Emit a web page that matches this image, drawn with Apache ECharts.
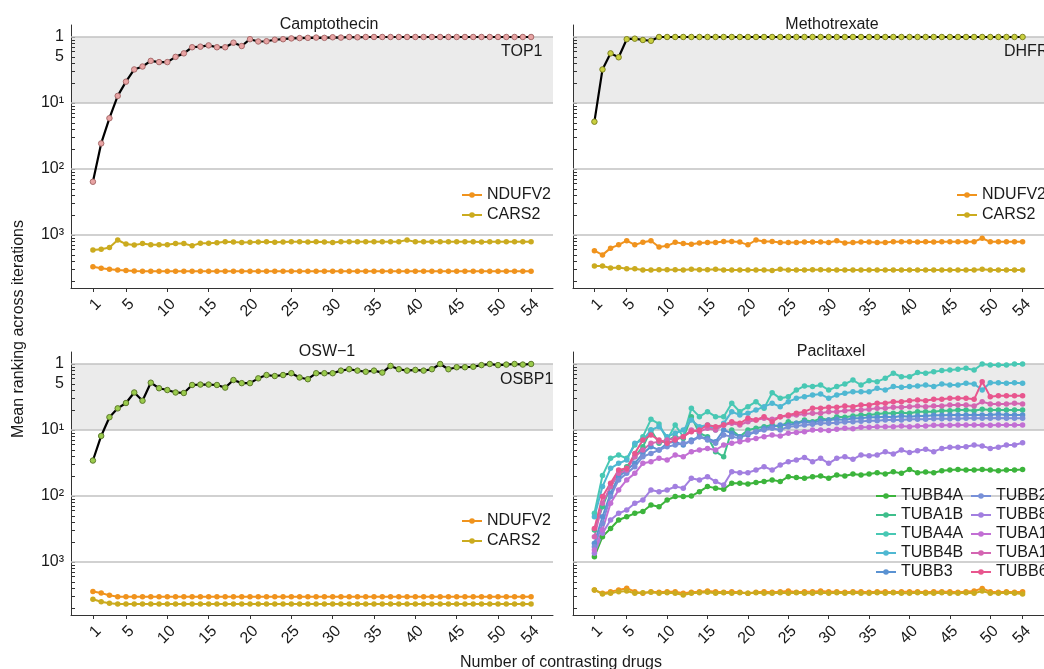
<!DOCTYPE html>
<html>
<head>
<meta charset="utf-8">
<script src="https://cdn.jsdelivr.net/npm/echarts@6/dist/echarts.min.js"></script>
<style>
  html, body { margin: 0; padding: 0; background: #fff; }
  #chart { width: 1044px; height: 669px; }
</style>
</head>
<body>
<div id="chart"></div>
<script>
// number of contrasting drugs, 1..54
const drugCounts = Array.from({ length: 54 }, (_, i) => i + 1)
const xTicks = [1, 5, 10, 15, 20, 25, 30, 35, 40, 45, 50, 54]
// y tick labels (mean rank) and the text shown for them
const yLabelValues = [1, 2, 10, 100, 1000]
const yLabelText = ['1', '5', '10¹', '10²', '10³']
const yMajor = [1, 10, 100, 1000]

const panelTitles = ['Camptothecin', 'Methotrexate', 'OSW\u22121', 'Paclitaxel']
const targetNames = ['TOP1', 'DHFR', 'OSBP1']

// Camptothecin
const camptoTOP1 = [156, 41, 17, 7.8, 4.75, 3.1, 2.8, 2.3, 2.4, 2.4,
  2.0, 1.77, 1.43, 1.4, 1.34, 1.43, 1.43, 1.22, 1.37, 1.08,
  1.17, 1.16, 1.1, 1.08, 1.05, 1.04, 1.03, 1.02, 1.03, 1.01,
  1.02, 1.0, 1.01, 1, 1, 1, 1, 1, 1, 1,
  1, 1, 1, 1, 1, 1, 1, 1, 1, 1,
  1, 1, 1, 1]
const camptoNDUFV2 = [3020, 3200, 3300, 3400, 3450, 3500, 3530, 3530, 3530, 3530,
  3530, 3530, 3530, 3550, 3530, 3530, 3530, 3530, 3530, 3530,
  3530, 3530, 3530, 3530, 3530, 3550, 3530, 3530, 3530, 3530,
  3530, 3530, 3530, 3530, 3530, 3530, 3530, 3530, 3530, 3530,
  3530, 3530, 3530, 3530, 3530, 3530, 3530, 3530, 3530, 3530,
  3530, 3530, 3530, 3530]
const camptoCARS2 = [1690, 1640, 1550, 1190, 1370, 1420, 1350, 1400, 1410, 1400,
  1350, 1350, 1450, 1330, 1330, 1310, 1260, 1280, 1300, 1290,
  1280, 1270, 1290, 1280, 1270, 1270, 1280, 1270, 1280, 1300,
  1270, 1270, 1270, 1260, 1270, 1270, 1270, 1260, 1190, 1270,
  1270, 1270, 1260, 1270, 1270, 1270, 1270, 1280, 1270, 1270,
  1270, 1270, 1270, 1270]

// Methotrexate
const methoDHFR = [19.2, 3.1, 1.77, 2.03, 1.08, 1.06, 1.11, 1.14, 1, 1,
  1, 1, 1, 1, 1, 1, 1, 1, 1, 1,
  1, 1, 1, 1, 1, 1, 1, 1, 1, 1,
  1, 1, 1, 1, 1, 1, 1, 1, 1, 1,
  1, 1, 1, 1, 1, 1, 1, 1, 1, 1,
  1, 1, 1, 1]
const methoNDUFV2 = [1730, 2000, 1580, 1410, 1220, 1410, 1290, 1220, 1520, 1460,
  1290, 1350, 1380, 1320, 1300, 1300, 1250, 1250, 1280, 1410,
  1190, 1250, 1250, 1300, 1300, 1300, 1280, 1280, 1280, 1300,
  1220, 1320, 1300, 1280, 1280, 1300, 1300, 1270, 1270, 1270,
  1280, 1270, 1280, 1270, 1270, 1270, 1260, 1260, 1120, 1270,
  1270, 1270, 1270, 1270]
const methoCARS2 = [2950, 2950, 3150, 3100, 3250, 3250, 3400, 3400, 3350, 3350,
  3350, 3380, 3300, 3350, 3350, 3300, 3400, 3400, 3400, 3400,
  3400, 3400, 3450, 3300, 3400, 3400, 3400, 3350, 3350, 3400,
  3400, 3400, 3400, 3400, 3400, 3400, 3400, 3400, 3400, 3400,
  3400, 3400, 3400, 3400, 3400, 3400, 3400, 3400, 3300, 3400,
  3400, 3400, 3400, 3400]

// OSW-1
const oswOSBP1 = [29, 12.3, 6.4, 4.7, 3.9, 2.7, 3.6, 1.92, 2.33, 2.48,
  2.7, 2.75, 2.08, 2.05, 2.05, 2.08, 2.28, 1.75, 1.95, 1.95,
  1.65, 1.47, 1.52, 1.47, 1.38, 1.6, 1.7, 1.38, 1.38, 1.38,
  1.26, 1.2, 1.26, 1.31, 1.26, 1.35, 1.07, 1.2, 1.26, 1.23,
  1.26, 1.2, 1.0, 1.2, 1.12, 1.12, 1.1, 1.04, 1.0, 1.04,
  1.02, 1.0, 1.02, 1.0]
const oswNDUFV2 = [2800, 2950, 3200, 3350, 3350, 3350, 3350, 3350, 3350, 3350,
  3350, 3350, 3350, 3350, 3350, 3350, 3350, 3350, 3350, 3350,
  3350, 3350, 3350, 3350, 3350, 3350, 3350, 3350, 3350, 3350,
  3350, 3350, 3350, 3350, 3350, 3350, 3350, 3350, 3350, 3350,
  3350, 3350, 3350, 3350, 3350, 3350, 3350, 3350, 3350, 3350,
  3350, 3350, 3350, 3350]
const oswCARS2 = [3670, 4000, 4200, 4330, 4330, 4330, 4330, 4330, 4330, 4330,
  4330, 4330, 4330, 4330, 4330, 4330, 4330, 4330, 4330, 4330,
  4330, 4330, 4330, 4330, 4330, 4330, 4330, 4330, 4330, 4330,
  4330, 4330, 4330, 4330, 4330, 4330, 4330, 4330, 4330, 4330,
  4330, 4330, 4330, 4330, 4330, 4330, 4330, 4330, 4330, 4330,
  4330, 4330, 4330, 4330]

// Paclitaxel
const paclNDUFV2 = [2650, 2980, 2810, 2650, 2500, 2810, 2980, 2810, 2880, 2810,
  2810, 2980, 2880, 2810, 2750, 2810, 2880, 2810, 2880, 2980,
  2880, 2810, 2880, 2810, 2750, 2880, 2810, 2810, 2750, 2810,
  2810, 2880, 2810, 2810, 2880, 2810, 2810, 2880, 2810, 2810,
  2810, 2880, 2810, 2810, 2810, 2880, 2810, 2750, 2510, 2810,
  2880, 2810, 2880, 2810]
const paclCARS2 = [2650, 3050, 2980, 2810, 2750, 2980, 2910, 2880, 2980, 2910,
  2980, 3160, 2980, 2910, 2880, 2980, 2910, 2980, 2910, 2980,
  2910, 2980, 2980, 2910, 2980, 2910, 2980, 2980, 2910, 2980,
  2910, 2980, 2910, 2980, 2980, 2910, 2980, 2910, 2980, 2980,
  2910, 2980, 2980, 2910, 2980, 2980, 2910, 2980, 2750, 2980,
  2980, 2910, 2980, 3050]

const tubNames = ['TUBB4A', 'TUBA1B', 'TUBA4A', 'TUBB4B', 'TUBB3', 'TUBB2A', 'TUBB8', 'TUBA1A', 'TUBA1C', 'TUBB6']
const tubColors = ['#3cb43c', '#3fbf8c', '#48c8b4', '#4fb8d2', '#5a92d2', '#7890d8', '#a27fe0', '#c26fd4', '#d465b2', '#e8568e']

const TUBB4A = [830, 413, 310, 231, 206, 183, 172, 137, 145, 115,
  102, 102, 100, 86, 72, 76, 79, 64, 64, 66,
  62.6, 60.5, 57, 60.5, 51, 52.3, 53.9, 51, 49.8, 53.9,
  48, 49.8, 46.4, 48, 46.4, 44.3, 46.4, 42.8, 45.4, 39.5,
  44.3, 43.3, 44.3, 41.5, 40.4, 39.5, 40.4, 40.4, 39.5, 40.4,
  41.5, 40.4, 40.4, 39.5]
const TUBA1B = [327, 145, 72, 45.4, 35.9, 25.4, 17.9, 10, 15.9, 14.2,
  12.6, 13.4, 6.28, 11.2, 12.6, 21.3, 25.4, 10, 12.6, 10,
  9.43, 8.9, 8.4, 8.9, 7.48, 7.92, 7.06, 7.48, 6.66, 7.06,
  6.28, 6.43, 6.14, 5.93, 5.93, 5.73, 5.59, 5.59, 5.47, 5.59,
  5.28, 5.28, 5.28, 5.1, 5.1, 4.98, 4.98, 5.1, 4.86, 4.98,
  4.98, 4.98, 4.98, 4.98]
const TUBA4A = [183, 49, 26.9, 23.9, 26.9, 16.9, 12.6, 6.9, 8.1, 14.2,
  8.4, 12.6, 4.7, 6.28, 5.28, 6.28, 6.28, 3.94, 5.28, 4.43,
  3.72, 4.7, 2.72, 3.31, 3.13, 2.48, 2.15, 2.2, 2.08, 2.48,
  2.2, 2.01, 1.75, 2.08, 1.79, 1.85, 1.65, 1.38, 1.56, 1.56,
  1.35, 1.38, 1.31, 1.26, 1.23, 1.2, 1.16, 1.23, 1.0, 1.04,
  1.04, 1.04, 1.0, 1.0]
const TUBB4B = [206, 72, 38.1, 32, 28.5, 15.9, 14.2, 10, 8.9, 12.6,
  11.2, 10, 7.06, 8.9, 8.4, 10, 7.92, 5.28, 5.93, 5.59,
  4.98, 4.43, 3.94, 4.43, 3.72, 3.31, 3.13, 2.95, 2.85, 3.31,
  2.95, 2.78, 2.63, 2.63, 2.63, 2.34, 2.48, 2.2, 2.26, 2.2,
  2.15, 2.08, 2.2, 2.01, 2.08, 2.08, 1.96, 2.01, 2.48, 1.92,
  1.92, 1.96, 1.92, 1.96]
const TUBB3 = [521, 206, 91, 51, 40.4, 32, 22.6, 17.9, 20.1, 15.9,
  15, 16.9, 14.2, 12.6, 13.4, 15, 10, 11.2, 12.6, 11.9,
  10.6, 9.43, 8.9, 8.4, 8.4, 7.92, 7.48, 7.75, 7.23, 7.06,
  6.9, 7.06, 6.66, 6.66, 6.43, 6.43, 6.28, 6.43, 6.14, 6.28,
  6.14, 6.14, 6, 6, 5.93, 5.93, 5.93, 5.93, 5.93, 5.93,
  5.79, 5.93, 5.93, 5.93]
const TUBB2A = [585, 260, 102, 57, 45.4, 35.9, 25.4, 22.6, 20.1, 17.9,
  16.9, 15.9, 15, 12.6, 14.2, 15.9, 11.9, 12.6, 13.4, 11.2,
  10.6, 10, 9.43, 10, 8.9, 8.7, 8.4, 8.2, 7.92, 7.92,
  7.75, 7.57, 7.48, 7.4, 7.23, 7.23, 7.06, 7.06, 7.06, 6.9,
  6.9, 6.9, 6.74, 6.74, 6.74, 6.74, 6.66, 6.66, 6.66, 6.66,
  6.58, 6.66, 6.66, 6.66]
const TUBB8 = [738, 367, 231, 183, 163, 129, 115, 81, 86, 81,
  72, 76, 53.9, 57, 51, 60.5, 68, 42.8, 44.3, 44.3,
  40.4, 35.9, 40.4, 33.9, 30.2, 28.5, 26, 30.2, 26.9, 32,
  26.9, 25.4, 27.8, 23.9, 24.6, 23.9, 21.3, 23.1, 20.1, 22,
  20.6, 19.6, 21.3, 19, 18.3, 18.3, 17.9, 16.9, 17.5, 19,
  18.3, 16.9, 16.9, 15.6]
const TUBA1A = [658, 327, 129, 81, 57, 45.4, 32, 30.2, 26.9, 28.5,
  23.9, 25.4, 21.3, 20.1, 19, 20.1, 16.9, 15.9, 15, 14.2,
  13.4, 12.6, 11.9, 12.3, 11.2, 10.9, 10.6, 10, 10, 10.2,
  9.77, 9.43, 9.54, 9.11, 9.11, 8.9, 8.9, 8.9, 8.7, 8.9,
  8.7, 8.7, 8.5, 8.5, 8.5, 8.4, 8.4, 8.4, 8.4, 8.5,
  8.4, 8.4, 8.4, 8.4]
const TUBA1C = [413, 129, 72, 45.4, 40.4, 25.4, 20.1, 15.9, 15, 14.2,
  13.4, 12.6, 10, 10.6, 9.43, 10, 8.4, 7.92, 8.4, 7.48,
  7.06, 6.66, 6.9, 6.28, 6.14, 5.93, 5.73, 5.59, 5.59, 5.28,
  5.28, 5.1, 4.98, 4.98, 4.86, 4.7, 4.7, 4.54, 4.54, 4.43,
  4.33, 4.43, 4.33, 4.33, 4.18, 4.18, 4.18, 4.33, 3.72, 4.04,
  4.04, 4.04, 3.94, 4.04]
const TUBB6 = [310, 102, 64, 40.4, 38.1, 22.6, 14.2, 11.9, 14.2, 15.9,
  14.2, 12.6, 10.6, 10, 8.4, 8.9, 8.4, 7.48, 7.92, 6.66,
  7.06, 6.28, 7.48, 6.28, 5.93, 5.59, 5.28, 4.7, 4.7, 4.54,
  4.54, 4.33, 4.43, 4.18, 4.18, 3.94, 3.94, 3.72, 3.72, 3.6,
  3.51, 3.6, 3.43, 3.43, 3.31, 3.31, 3.31, 3.43, 1.85, 3.13,
  3.02, 3.02, 3.02, 3.02]
const tubValues = [TUBB4A, TUBA1B, TUBA4A, TUBB4B, TUBB3, TUBB2A, TUBB8, TUBA1A, TUBA1C, TUBB6]

const FONT = '"Liberation Sans", Arial, sans-serif'
const ORANGE = '#f0931d'
const GOLD = '#cbab1f'
const INK = '#1a1a1a'

const chart = echarts.init(document.getElementById('chart'))

// minor log ticks, mirrored inside each decade like the original
const yMinor = []
;[1, 10, 100, 1000].forEach(d => {
  [2, 3, 4, 5, 6, 7, 8, 9].forEach(k => yMinor.push(10 / k * d))
})

const grids = [
  { left: 71, top: 25, width: 482, height: 263 },
  { left: 573, top: 25, width: 482, height: 263 },
  { left: 71, top: 352, width: 482, height: 263 },
  { left: 573, top: 352, width: 482, height: 263 }
]

const pairs = (vals) => vals.map((v, i) => [drugCounts[i], v])

const xAxes = grids.map((g, k) => ({
  type: 'value', gridIndex: k, min: -1.65, max: 56.65,
  axisLine: { show: true, onZero: false, lineStyle: { color: '#333', width: 1 } },
  axisTick: { show: true, customValues: xTicks, length: 4, lineStyle: { color: '#333' } },
  axisLabel: { customValues: xTicks, rotate: 45, fontSize: 16, color: INK, margin: 8, verticalAlign: 'top', fontFamily: FONT },
  splitLine: { show: false }
}))

const yAxes = grids.map((g, k) => ({
  type: 'log', logBase: 10, gridIndex: k, inverse: true, position: 'left',
  min: 0.658, max: 6350,
  axisLine: { show: true, onZero: false, lineStyle: { color: '#333', width: 1 } },
  axisTick: { show: true, inside: true, length: 4, customValues: yMajor.concat(yMinor), lineStyle: { color: '#333' } },
  axisLabel: {
    show: k % 2 === 0, customValues: yLabelValues, fontSize: 16, color: INK, margin: 7, fontFamily: FONT,
    formatter: v => {
      const i = yLabelValues.findIndex(t => Math.abs(t - v) / t < 1e-6)
      return i >= 0 ? yLabelText[i] : ''
    }
  },
  splitLine: { show: false }
}))

const series = []
grids.forEach((g, k) => {
  // shaded 1..10 band and the decade grid lines, kept under the data
  series.push({
    type: 'line', xAxisIndex: k, yAxisIndex: k, data: [], silent: true,
    markArea: { silent: true, z: -1, itemStyle: { color: '#ebebeb' }, data: [[{ yAxis: 1 }, { yAxis: 10 }]] },
    markLine: {
      silent: true, z: 1, symbol: 'none', label: { show: false },
      lineStyle: { color: '#c2c2c2', width: 1.6, type: 'solid' },
      data: yMajor.map(v => ({ yAxis: v }))
    }
  })
})

function rankLine(k, name, vals, color, z) {
  return {
    name, type: 'line', xAxisIndex: k, yAxisIndex: k, data: pairs(vals),
    symbol: 'circle', symbolSize: 5.5, showAllSymbol: true, z: z || 2,
    lineStyle: { color, width: 2 }, itemStyle: { color }
  }
}
function targetLine(k, name, vals, fill, border) {
  return {
    name, type: 'line', xAxisIndex: k, yAxisIndex: k, data: pairs(vals),
    symbol: 'circle', symbolSize: 5.5, showAllSymbol: true, z: 4,
    lineStyle: { color: '#000', width: 2.2 },
    itemStyle: { color: fill, borderColor: border, borderWidth: 1 }
  }
}

series.push(rankLine(0, 'NDUFV2', camptoNDUFV2, ORANGE))
series.push(rankLine(0, 'CARS2', camptoCARS2, GOLD))
series.push(targetLine(0, 'TOP1', camptoTOP1, '#e8a3a3', '#a86c6c'))

series.push(rankLine(1, 'NDUFV2', methoNDUFV2, ORANGE))
series.push(rankLine(1, 'CARS2', methoCARS2, GOLD))
series.push(targetLine(1, 'DHFR', methoDHFR, '#c9cf3e', '#7f8424'))

series.push(rankLine(2, 'NDUFV2', oswNDUFV2, ORANGE))
series.push(rankLine(2, 'CARS2', oswCARS2, GOLD))
series.push(targetLine(2, 'OSBP1', oswOSBP1, '#9acb4c', '#5d7a2c'))

series.push(rankLine(3, 'NDUFV2', paclNDUFV2, ORANGE))
series.push(rankLine(3, 'CARS2', paclCARS2, GOLD))
tubNames.forEach((n, i) => series.push(rankLine(3, n, tubValues[i], tubColors[i], 3)))

const legendBase = {
  orient: 'vertical', itemWidth: 20, itemHeight: 7, itemGap: 2, z: 10,
  textStyle: { fontSize: 16, color: INK, fontFamily: FONT, lineHeight: 18 },
  selectedMode: false
}

const label = (text, x, y, extra) => ({
  type: 'text', x, y, z: 10,
  style: Object.assign({ text, font: '16px ' + FONT, fill: INK, align: 'left', verticalAlign: 'middle' }, extra || {})
})

const option = {
  animation: false,
  backgroundColor: '#fff',
  textStyle: { fontFamily: FONT },
  grid: grids,
  xAxis: xAxes,
  yAxis: yAxes,
  title: [
    { text: panelTitles[0], left: 324, top: 12, textAlign: 'center' },
    { text: panelTitles[1], left: 827, top: 12, textAlign: 'center' },
    { text: panelTitles[2], left: 322, top: 339, textAlign: 'center' },
    { text: panelTitles[3], left: 826, top: 339, textAlign: 'center' }
  ].map(t => Object.assign(t, { textStyle: { fontSize: 16, fontWeight: 'normal', color: INK, fontFamily: FONT } })),
  legend: [
    Object.assign({}, legendBase, { left: 456, top: 181, data: ['NDUFV2', 'CARS2'] }),
    Object.assign({}, legendBase, { left: 951, top: 181, data: ['NDUFV2', 'CARS2'] }),
    Object.assign({}, legendBase, { left: 456, top: 507, data: ['NDUFV2', 'CARS2'] }),
    Object.assign({}, legendBase, { left: 870, top: 482, itemGap: 1, data: tubNames.slice(0, 5) }),
    Object.assign({}, legendBase, { left: 965, top: 482, itemGap: 1, data: tubNames.slice(5) })
  ],
  graphic: [
    label(targetNames[0], 501, 52),
    label(targetNames[1], 1004, 52),
    label(targetNames[2], 500, 380),
    label('Number of contrasting drugs', 561, 663, { align: 'center' }),
    Object.assign(label('Mean ranking across iterations', 19, 329, { align: 'center' }), { rotation: Math.PI / 2 })
  ],
  series
}

chart.setOption(option)
</script>
</body>
</html>
